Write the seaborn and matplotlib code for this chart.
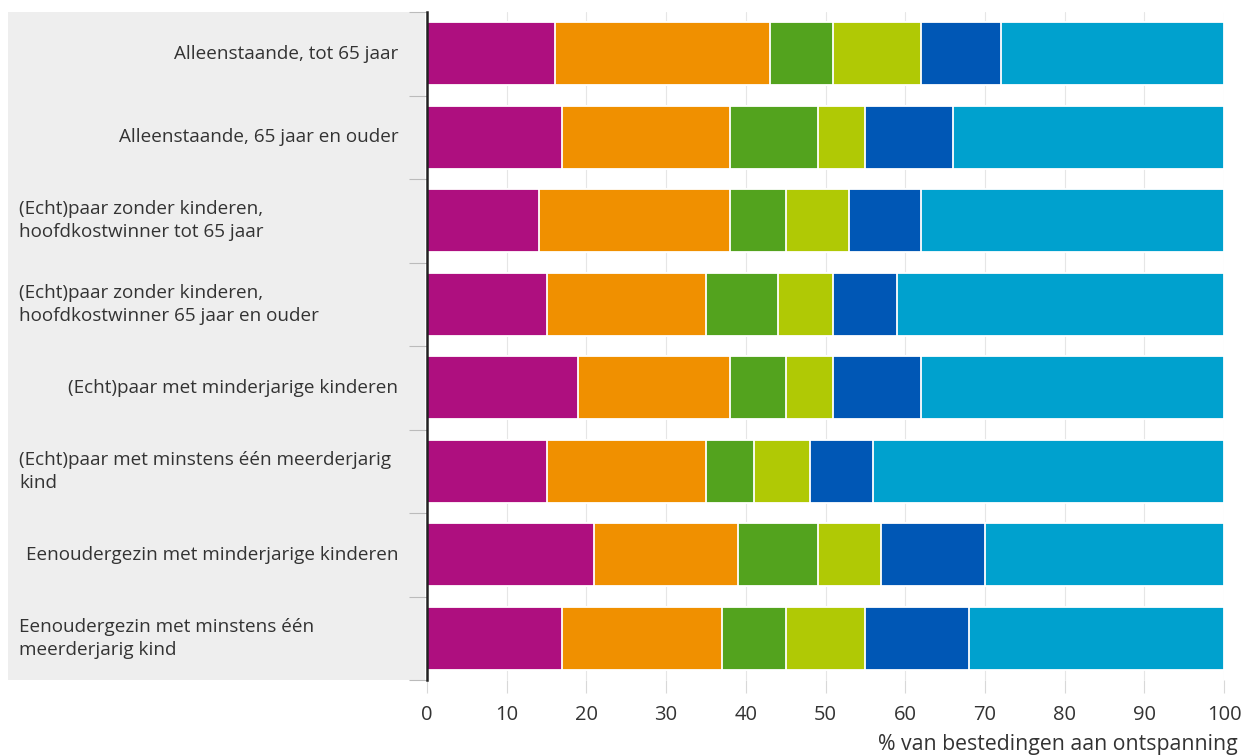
import numpy as np
import pandas as pd
import matplotlib.pyplot as plt
from matplotlib.patches import Rectangle
import seaborn as sns

# row labels (top to bottom)
groups = [
    "Alleenstaande, tot 65 jaar",
    "Alleenstaande, 65 jaar en ouder",
    "(Echt)paar zonder kinderen,\nhoofdkostwinner tot 65 jaar",
    "(Echt)paar zonder kinderen,\nhoofdkostwinner 65 jaar en ouder",
    "(Echt)paar met minderjarige kinderen",
    "(Echt)paar met minstens één meerderjarig\nkind",
    "Eenoudergezin met minderjarige kinderen",
    "Eenoudergezin met minstens één\nmeerderjarig kind",
]

# segment shares (% of leisure spending)
magenta = [16, 17, 14, 15, 19, 15, 21, 17]
oranje = [27, 21, 24, 20, 19, 20, 18, 20]
groen = [8, 11, 7, 9, 7, 6, 10, 8]
lichtgroen = [11, 6, 8, 7, 6, 7, 8, 10]
donkerblauw = [10, 11, 9, 8, 11, 8, 13, 13]
lichtblauw = [28, 34, 38, 41, 38, 44, 30, 32]

segments = [magenta, oranje, groen, lichtgroen, donkerblauw, lichtblauw]
colors = ["#AE0F7F", "#F09000", "#53A31E", "#B0C905", "#0057B5", "#00A1CE"]

sns.set_theme(style="white")
plt.rcParams["font.family"] = ["Open Sans", "DejaVu Sans"]
txt = "#333333"

fig = plt.figure(figsize=(12.45, 7.56), dpi=100)
ax = fig.add_axes([427 / 1245, 1 - 680 / 756, 797 / 1245, 668 / 756])

df = pd.DataFrame({"groep": groups})
cum = np.cumsum(np.array(segments), axis=0)

# stacked bars: draw cumulative totals from the right-most segment down
for i in range(len(segments) - 1, -1, -1):
    df["waarde"] = cum[i]
    sns.barplot(data=df, y="groep", x="waarde", orient="h", color=colors[i],
                saturation=1, width=0.75, edgecolor="white", linewidth=1.3,
                ax=ax, zorder=3)

n = len(groups)
ax.set_xlim(0, 100)
ax.set_ylim(n - 0.5, -0.5)
ax.set_xticks(range(0, 101, 10))
ax.set_xticklabels([str(v) for v in range(0, 101, 10)], fontsize=14.5, color=txt)
ax.tick_params(axis="x", length=9, width=0.8, color="#D8D8D8", pad=9, bottom=True)
ax.xaxis.grid(True, color="#E6E6E6", linewidth=0.8, zorder=0)
ax.set_axisbelow(True)

ax.set_yticks([])
ax.set_yticks(np.arange(-0.5, n, 1.0), minor=True)
ax.tick_params(axis="y", which="minor", length=13, width=0.8, color="#BBBBBB", left=True)
ax.set_xlabel("")
ax.set_ylabel("")

for side in ["top", "right", "bottom"]:
    ax.spines[side].set_visible(False)
ax.spines["left"].set_color("#222222")
ax.spines["left"].set_linewidth(1.8)
ax.spines["left"].set_zorder(5)

# grey label panel
ax.add_patch(Rectangle((-0.526, 0), 0.523, 1, transform=ax.transAxes,
                       facecolor="#EEEEEE", edgecolor="none", clip_on=False, zorder=0))
trans = ax.get_yaxis_transform()

# row labels: single-line right aligned, two-line left aligned
for i, lab in enumerate(groups):
    if "\n" in lab:
        ax.text(-0.512, i, lab, transform=trans, ha="left", va="center",
                fontsize=13.6, color=txt, linespacing=1.33)
    else:
        ax.text(-0.036, i, lab, transform=trans, ha="right", va="center",
                fontsize=13.6, color=txt)

ax.text(1.0176, -0.097, "% van bestedingen aan ontspanning", transform=ax.transAxes,
        ha="right", va="center", fontsize=15.3, color=txt)

fig.savefig("out.png", dpi=100)
